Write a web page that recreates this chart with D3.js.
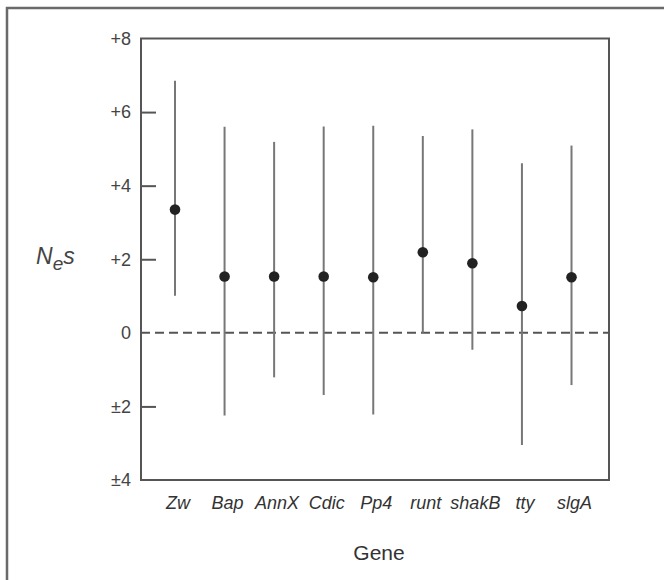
<!DOCTYPE html>
<html>
<head>
<meta charset="utf-8">
<title>Nes by gene</title>
<script src="https://cdn.jsdelivr.net/npm/d3@7"></script>
<style>
  html,body{margin:0;background:#fff;}
  svg{display:block;font-family:"Liberation Sans",Arial,sans-serif;}
  .frame{fill:none;stroke:#555;stroke-width:2;}
  .ylab text{font-size:18px;fill:#444;}
  .gene{font-size:18px;font-style:italic;fill:#333;}
</style>
</head>
<body>
<svg width="664" height="580"></svg>
<script>
// data
const genes  = ['Zw','Bap','AnnX','Cdic','Pp4','runt','shakB','tty','slgA'];
const est    = [3.35, 1.53, 1.53, 1.53, 1.51, 2.19, 1.89, 0.73, 1.51];
const upper  = [6.85, 5.60, 5.19, 5.61, 5.63, 5.35, 5.53, 4.61, 5.09];
const lower  = [1.01, -2.25, -1.21, -1.69, -2.22, 0.00, -0.46, -3.05, -1.42];
const yTicks = [-4, -2, 0, 2, 4, 6, 8];
const innerTicks = [-2, 2, 4, 6];

const svg = d3.select('svg');
const m = {left:141, right:609, top:38.5, bottom:480};

const x = d3.scalePoint().domain(genes).range([175, 571.5]);
const y = d3.scaleLinear().domain([-4, 8]).range([m.bottom, m.top]);

// figure box edge (top + left only, as cropped)
svg.append('path')
  .attr('d', 'M7,580 V8 H664')
  .attr('fill','none').attr('stroke','#6a6a6a').attr('stroke-width',2.5);

// tick labels
const fmt = d => d > 0 ? '+' + d : d < 0 ? '\u00b1' + Math.abs(d) : '0';
svg.append('g')
  .attr('class','ylab')
  .attr('transform', `translate(${m.left - 10},0)`)
  .call(d3.axisLeft(y).tickValues(yTicks).tickSize(0).tickPadding(0).tickFormat(fmt))
  .call(g => g.select('.domain').remove());

// inward ticks
svg.append('g')
  .attr('transform', `translate(${m.left},0)`)
  .call(d3.axisRight(y).tickValues(innerTicks).tickSize(15).tickFormat(''))
  .call(g => g.select('.domain').remove())
  .call(g => g.selectAll('line').attr('stroke','#555').attr('stroke-width',2));

// zero line
svg.append('line')
  .attr('x1', m.left).attr('x2', m.right)
  .attr('y1', y(0)).attr('y2', y(0))
  .attr('stroke','#555').attr('stroke-width',2)
  .attr('stroke-dasharray','9,5');

// error bars
const rows = genes.map((g, i) => ({g, v: est[i], hi: upper[i], lo: lower[i]}));
svg.append('g').selectAll('line')
  .data(rows).join('line')
  .attr('x1', d => x(d.g)).attr('x2', d => x(d.g))
  .attr('y1', d => y(d.hi)).attr('y2', d => y(d.lo))
  .attr('stroke','#777').attr('stroke-width',2);

// points
svg.append('g').selectAll('circle')
  .data(rows).join('circle')
  .attr('cx', d => x(d.g)).attr('cy', d => y(d.v))
  .attr('r', 5.3).attr('fill','#222');

// frame
svg.append('rect').attr('class','frame')
  .attr('x', m.left).attr('y', m.top)
  .attr('width', m.right - m.left).attr('height', m.bottom - m.top);

// gene names
svg.append('g').selectAll('text')
  .data(genes).join('text')
  .attr('class','gene')
  .attr('x', d => x(d) + 3).attr('y', 509)
  .attr('text-anchor','middle')
  .text(d => d);

// axis titles
svg.append('text')
  .attr('x', 379).attr('y', 560)
  .attr('text-anchor','middle')
  .attr('font-size', 21).attr('fill','#333')
  .text('Gene');

const ne = svg.append('text')
  .attr('x', 36).attr('y', 264)
  .attr('font-size', 23).attr('font-style','italic').attr('fill','#444');
ne.append('tspan').text('N');
ne.append('tspan').attr('dy', 6).attr('font-size', 19).text('e');
ne.append('tspan').attr('dy', -6).text('s');
</script>
</body>
</html>
